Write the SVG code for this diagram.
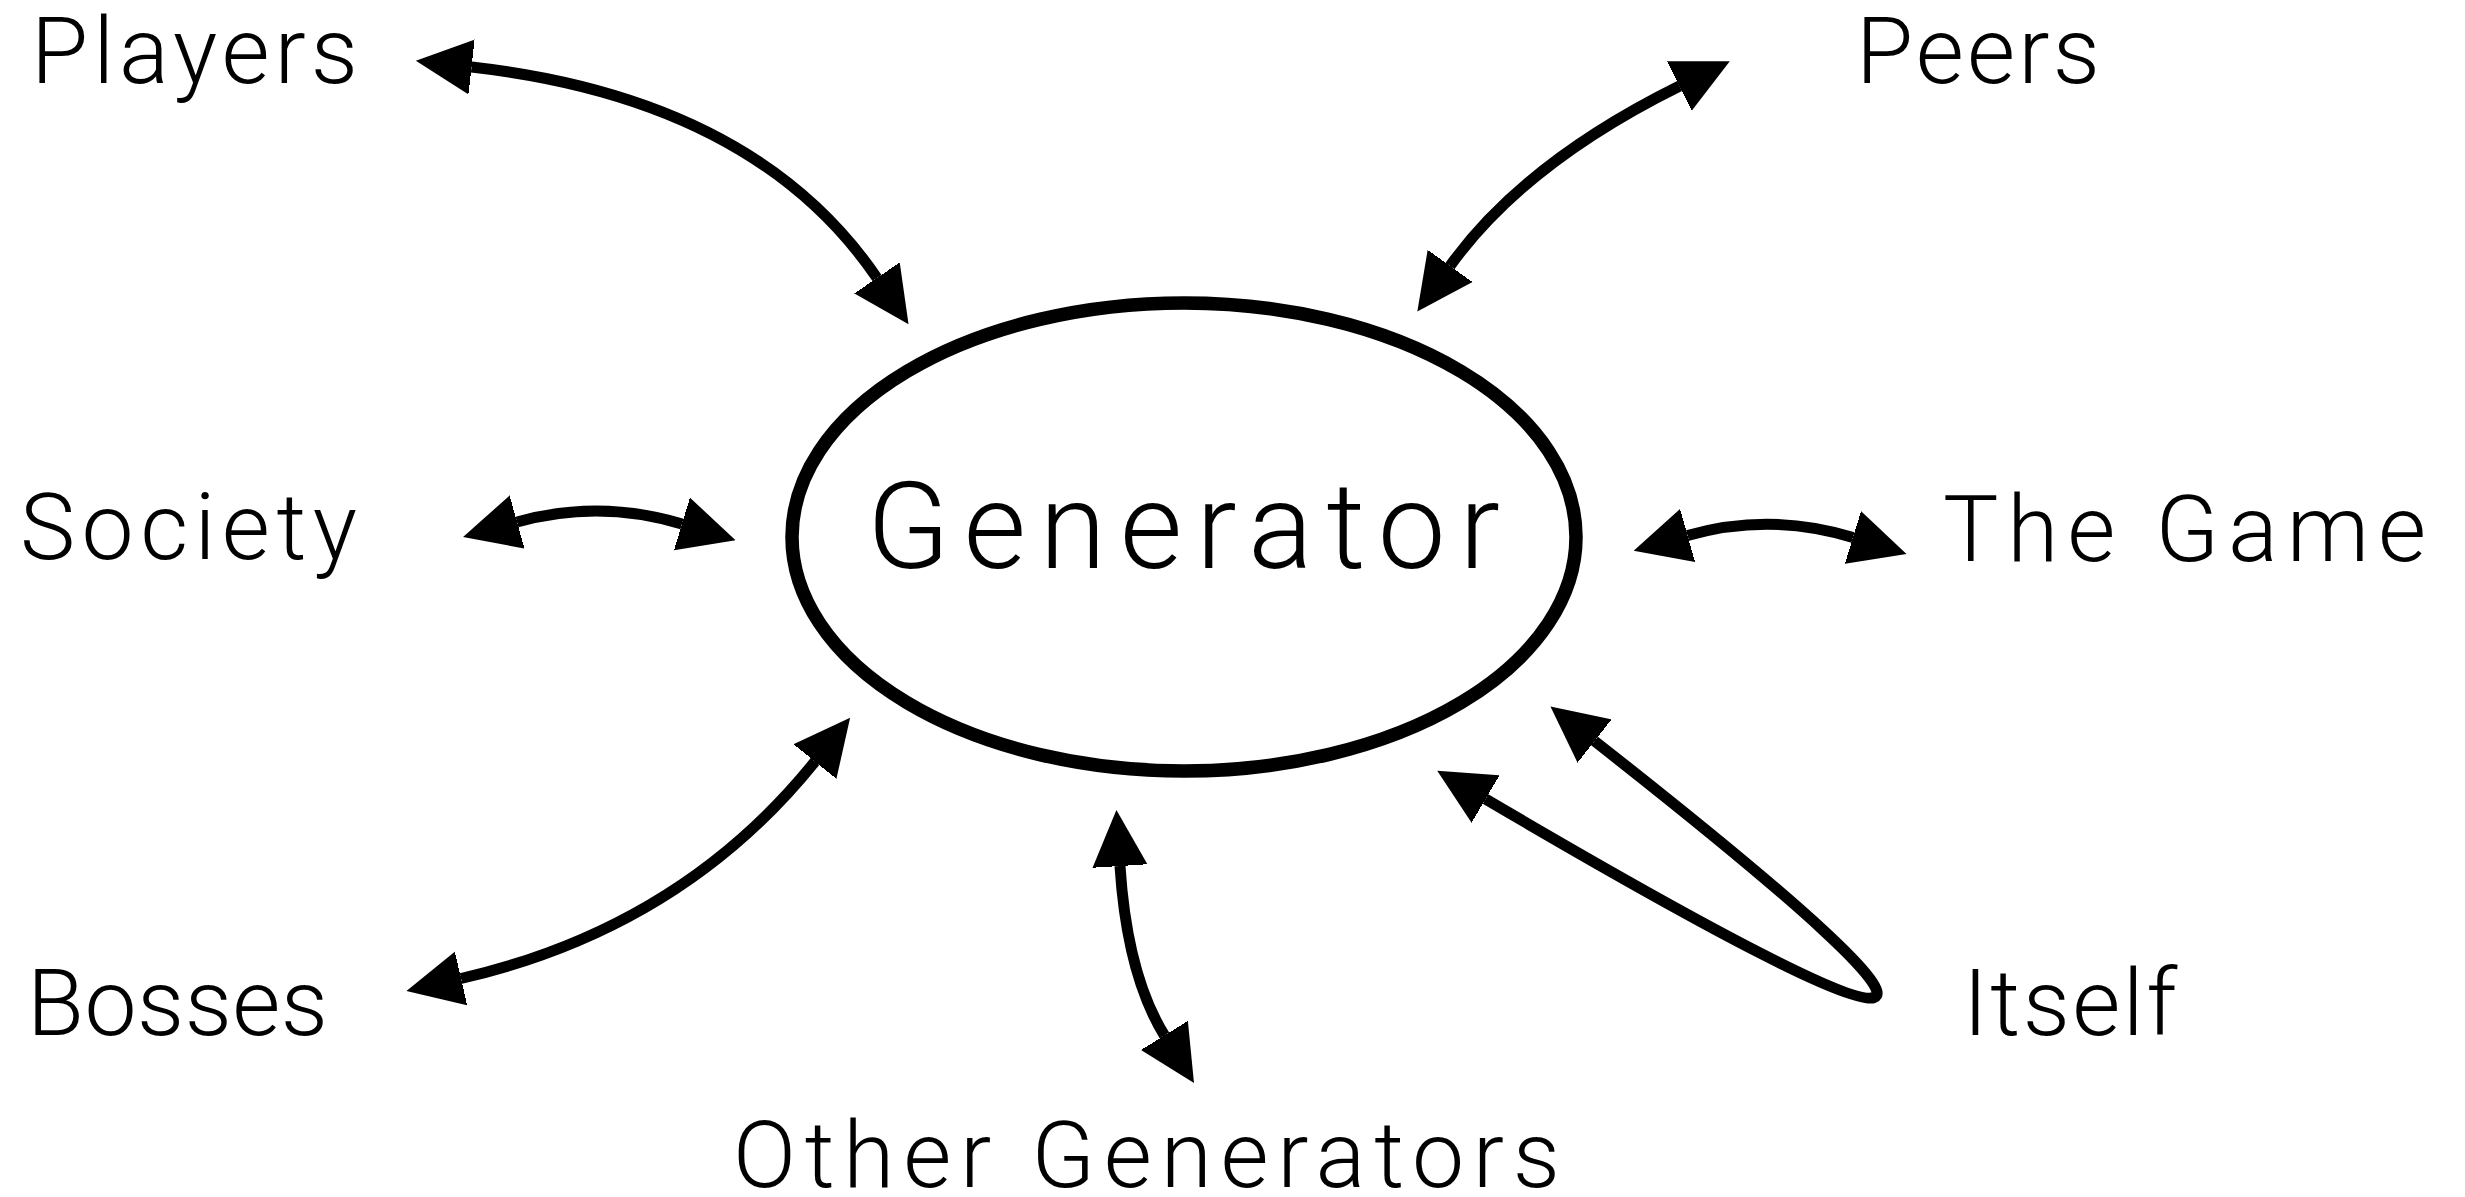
<svg xmlns="http://www.w3.org/2000/svg" width="2465" height="1197" viewBox="0 0 2465 1197">
  <style>
    .lbl { font-family: Roboto, "Open Sans", "Liberation Sans", sans-serif; font-weight: 300; font-size: 93px; fill: #000; }
    .big { font-size: 121px; }
    .wire { fill: none; stroke: #000; stroke-width: 11; marker-start: url(#head); marker-end: url(#head); }
  </style>
  <defs>
    <!-- solid triangular head, drawn at both ends of each connector -->
    <marker id="head" markerUnits="userSpaceOnUse" viewBox="0 -28 56 56" refX="0" refY="0" markerWidth="56" markerHeight="56" orient="auto-start-reverse">
      <path d="M-1,-28 L56,0 L-1,28 z" fill="#000"/>
    </marker>
  </defs>
  <rect width="2465" height="1197" fill="#fff"/>

  <!-- central node -->
  <g id="generator">
    <ellipse cx="1184" cy="537" rx="392" ry="234" fill="none" stroke="#000" stroke-width="13.5"/>
    <text class="lbl big" x="867" y="568" textLength="633" lengthAdjust="spacing">Generator</text>
  </g>

  <!-- surrounding nodes -->
  <g id="players"><text class="lbl" x="31" y="83" textLength="327" lengthAdjust="spacing">Players</text></g>
  <g id="peers"><text class="lbl" x="1856" y="83" textLength="244" lengthAdjust="spacing">Peers</text></g>
  <g id="society"><text class="lbl" x="20" y="559" textLength="337" lengthAdjust="spacing">Society</text></g>
  <g id="the-game"><text class="lbl" x="1943" y="561" textLength="483" lengthAdjust="spacing">The Game</text></g>
  <g id="bosses"><text class="lbl" x="27" y="1035" textLength="301" lengthAdjust="spacing">Bosses</text></g>
  <g id="other-generators"><text class="lbl" x="733" y="1187" textLength="827" lengthAdjust="spacing">Other Generators</text></g>
  <g id="itself"><text class="lbl" x="1963" y="1035" textLength="214" lengthAdjust="spacing">Itself</text></g>

  <!-- two-way connectors, plus the self loop -->
  <g id="connectors">
    <path class="wire" d="M471.5,67 Q755,99 877,278"/>
    <path class="wire" d="M1679.6,86 Q1524,163 1450,266"/>
    <path class="wire" d="M517,522 Q599.5,499 682,524"/>
    <path class="wire" d="M1687.5,535.5 Q1770,512 1853,537.5"/>
    <path class="wire" d="M815,761.5 Q681,928 461,978.5"/>
    <path class="wire" d="M1120,866 Q1127,975 1164.5,1035.5"/>
    <path class="wire" d="M1594.5,741 C2020,1075 1950,1072 1485.5,799"/>
  </g>
</svg>
